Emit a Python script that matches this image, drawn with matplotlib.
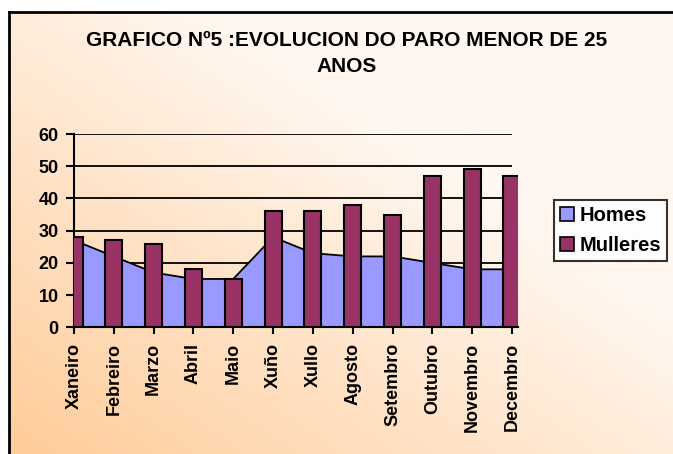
import numpy as np
import matplotlib.pyplot as plt
from matplotlib.patches import Patch
from matplotlib.colors import to_rgb

plt.rcParams['font.family'] = ['Liberation Sans', 'DejaVu Sans']
plt.rcParams['font.weight'] = 'bold'

# datos
meses = ['Xaneiro', 'Febreiro', 'Marzo', 'Abril', 'Maio', 'Xuño',
         'Xullo', 'Agosto', 'Setembro', 'Outubro', 'Novembro', 'Decembro']
homes = [27, 22, 17, 15, 15, 28, 23, 22, 22, 20, 18, 18]
mulleres = [28, 27, 26, 18, 15, 36, 36, 38, 35, 47, 49, 47]
yticks = [0, 10, 20, 30, 40, 50, 60]

W, H = 673, 454
fig = plt.figure(figsize=(W / 100, H / 100), dpi=100)

# fondo degradado (laranxa abaixo á esquerda)
bg = fig.add_axes([9 / W, 0, 1 - 9 / W, 1 - 12 / H])
u = np.linspace(0, 1, 300)
v = np.linspace(1, 0, 200)
U, V = np.meshgrid(u, v)
f = np.clip(1 - (U + V) / 1.3, 0, 1) ** 1.0
c0 = np.array(to_rgb('#FFF7F0'))
c1 = np.array(to_rgb('#FFCC99'))
img = c0[None, None, :] * (1 - f[..., None]) + c1[None, None, :] * f[..., None]
bg.imshow(img, aspect='auto', extent=[0, 1, 0, 1])
bg.set_xlim(0, 1)
bg.set_ylim(0, 1)
bg.set_xticks([])
bg.set_yticks([])
for s in ['right', 'bottom']:
    bg.spines[s].set_visible(False)
bg.spines['left'].set_linewidth(2)
bg.spines['top'].set_linewidth(2)

ax = fig.add_axes([74 / W, 1 - 327.3 / H, (518 - 74) / W, (327.3 - 134) / H])
ax.patch.set_alpha(0)
x = np.arange(len(meses))

ax.hlines(yticks[1:], 0, len(meses) - 1, colors='black', lw=1.3, zorder=1)
ax.fill_between(x, homes, color='#9999FF', zorder=2, lw=0)
ax.plot(x, homes, color='black', lw=1.3, zorder=3)
ax.bar(x, mulleres, width=0.43, color='#993366', edgecolor='black', lw=1.5, zorder=4)

ax.set_xlim(0, len(meses) - 1 + 0.15)
ax.set_ylim(0, 60)
ax.set_yticks(yticks)
ax.set_xticks(x)
ax.set_xticklabels(meses, rotation=90, fontsize=13, fontweight='bold')
ax.tick_params(axis='y', labelsize=13, width=1.5, length=6, direction='out', pad=5)
ax.tick_params(axis='x', width=1.5, length=5, direction='out', pad=6)
for lab in ax.get_yticklabels():
    lab.set_fontweight('bold')
ax.spines['right'].set_visible(False)
ax.spines['top'].set_visible(False)
ax.spines['left'].set_linewidth(1.5)
ax.spines['bottom'].set_linewidth(1.5)

fig.text(347 / W, 1 - 46 / H, 'GRAFICO Nº5 :EVOLUCION DO PARO MENOR DE 25',
         ha='center', va='baseline', fontsize=15, fontweight='bold')
fig.text(347 / W, 1 - 72 / H, 'ANOS', ha='center', va='baseline',
         fontsize=15, fontweight='bold')

handles = [Patch(facecolor='#9999FF', edgecolor='black', lw=1.2),
           Patch(facecolor='#993366', edgecolor='black', lw=1.2)]
leg = fig.legend(handles, ['Homes', 'Mulleres'], loc='center',
                 bbox_to_anchor=(610.5 / W, 1 - 230.5 / H),
                 prop={'weight': 'bold', 'size': 14.5}, frameon=True, fancybox=False,
                 handlelength=0.7, handleheight=0.7, handletextpad=0.25,
                 borderpad=0.3, labelspacing=0.55, borderaxespad=0)
leg.get_frame().set_edgecolor('black')
leg.get_frame().set_linewidth(1.5)
leg.get_frame().set_facecolor('white')

fig.savefig('out.png', dpi=100)
